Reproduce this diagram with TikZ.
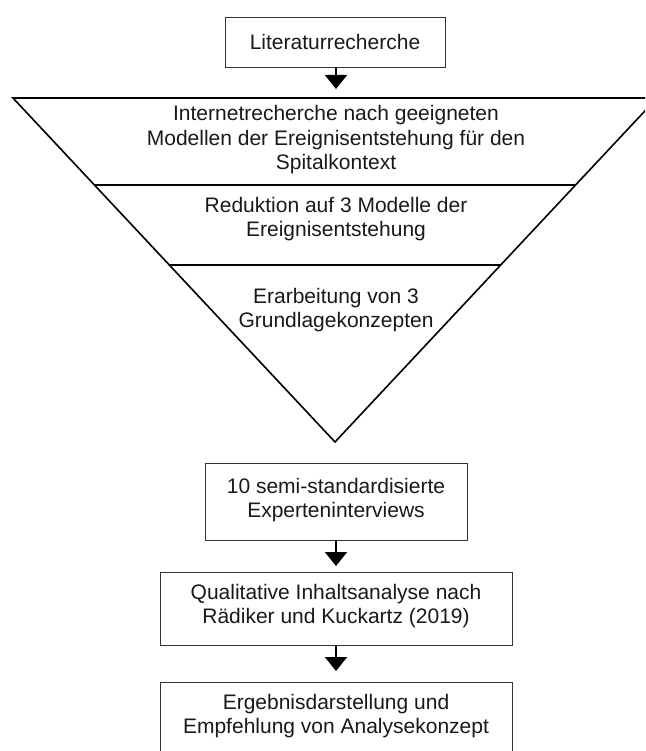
\documentclass[tikz,border=0pt]{standalone}
\usepackage{fontspec}
\setmainfont{Liberation Sans}
\usetikzlibrary{arrows.meta}
\begin{document}
\begin{tikzpicture}[x=1pt,y=-1pt,
  txt/.style={align=center,font=\fontsize{21}{24.5}\selectfont,text=black!90,inner sep=0pt},
  stepbox/.style={draw=black!80,line width=0.9pt},
  funnel/.style={draw=black,line width=1.6pt,line join=miter},
  flow/.style={line width=2pt,-{Triangle[width=22pt,length=14pt]}}]
\useasboundingbox (0,0) rectangle (645,751);
\clip (0,0) rectangle (645,751);

% top box
\draw[stepbox] (225,17) rectangle (445,67);
\node[txt] (lit) at (335,42) {Literaturrecherche};
\coordinate (litb) at (336,67);
\coordinate (funtop) at (336,89);
\draw[flow] (litb) -- (funtop);

% funnel
\coordinate (fl) at (13,98);
\coordinate (fr) at (657,98);
\coordinate (fa) at (335,442);
\draw[funnel] (fl) -- (fr) -- (fa) -- cycle;
\draw[funnel,line width=1.3pt] (94.5,185) -- (575.5,185);
\draw[funnel,line width=1.3pt] (169.5,265) -- (500.5,265);
\node[txt] (f1) at (336,140) {Internetrecherche nach geeigneten\\Modellen der Ereignisentstehung für den\\Spitalkontext};
\node[txt] (f2) at (336,219) {Reduktion auf 3 Modelle der\\Ereignisentstehung};
\node[txt] (f3) at (336,310) {Erarbeitung von 3\\Grundlagekonzepten};

% lower steps
\draw[stepbox] (205,463) rectangle (467,540);
\node[txt] (exp) at (336,500) {10 semi-standardisierte\\Experteninterviews};
\draw[stepbox] (160,572) rectangle (512,645);
\node[txt] (qia) at (336,606) {Qualitative Inhaltsanalyse nach\\Rädiker und Kuckartz (2019)};
\draw[stepbox] (160,682) rectangle (512,753);
\node[txt] (erg) at (336,716) {Ergebnisdarstellung und\\Empfehlung von Analysekonzept};

\coordinate (expb) at (336,540);
\coordinate (qiat) at (336,566);
\coordinate (qiab) at (336,645);
\coordinate (ergt) at (336,671);
\draw[flow] (expb) -- (qiat);
\draw[flow] (qiab) -- (ergt);
\end{tikzpicture}
\end{document}
